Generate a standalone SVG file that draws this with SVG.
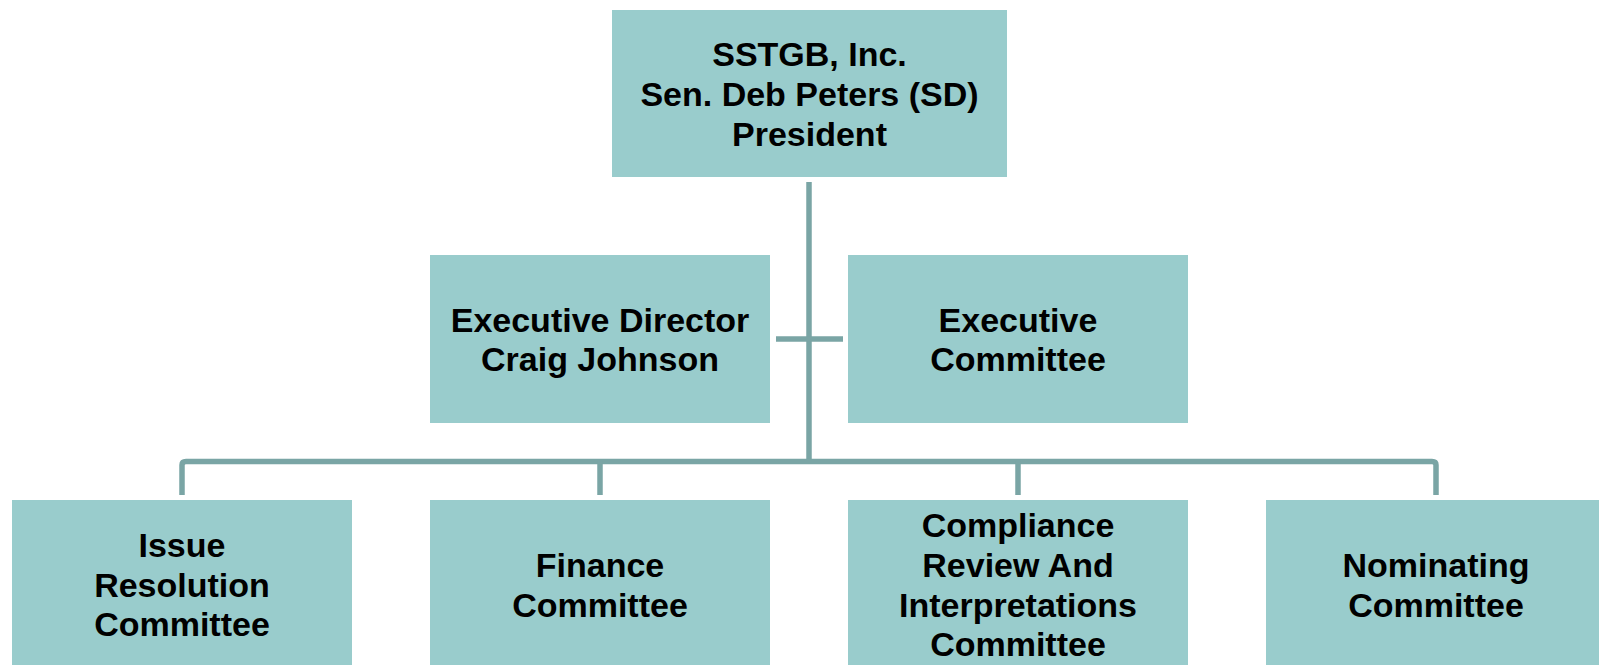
<svg xmlns="http://www.w3.org/2000/svg" width="1599" height="665" viewBox="0 0 1599 665">
<style>
.box{fill:#99CCCC;}
.t{font-family:"Liberation Sans",Arial,sans-serif;font-weight:bold;font-size:34px;fill:#000;text-anchor:middle;}
.c{fill:none;stroke:#7AA5A5;stroke-width:5.5;stroke-linejoin:round;}
</style>
<rect width="1599" height="665" fill="#fff"/>
<g id="connectors">
<path class="c" d="M809,182 V461"/>
<path class="c" d="M776,339 H843"/>
<path class="c" d="M182,495 V465 Q182,461.5 186,461.5 H1432 Q1436,461.5 1436,465 V495"/>
<path class="c" d="M600,461.5 V495"/>
<path class="c" d="M1018,461.5 V495"/>
</g>
<g id="president">
<rect class="box" x="612" y="10" width="395" height="167"/>
<text class="t" x="809.5" y="66">SSTGB, Inc.</text>
<text class="t" x="809.5" y="106">Sen. Deb Peters (SD)</text>
<text class="t" x="809.5" y="146">President</text>
</g>
<g id="exec-director">
<rect class="box" x="430" y="255" width="340" height="168"/>
<text class="t" x="600" y="332">Executive Director</text>
<text class="t" x="600" y="371">Craig Johnson</text>
</g>
<g id="exec-committee">
<rect class="box" x="848" y="255" width="340" height="168"/>
<text class="t" x="1018" y="332">Executive</text>
<text class="t" x="1018" y="371">Committee</text>
</g>
<g id="issue-resolution">
<rect class="box" x="12" y="500" width="340" height="175"/>
<text class="t" x="182" y="557">Issue</text>
<text class="t" x="182" y="597">Resolution</text>
<text class="t" x="182" y="636">Committee</text>
</g>
<g id="finance">
<rect class="box" x="430" y="500" width="340" height="175"/>
<text class="t" x="600" y="577">Finance</text>
<text class="t" x="600" y="617">Committee</text>
</g>
<g id="compliance">
<rect class="box" x="848" y="500" width="340" height="175"/>
<text class="t" x="1018" y="537">Compliance</text>
<text class="t" x="1018" y="577">Review And</text>
<text class="t" x="1018" y="617">Interpretations</text>
<text class="t" x="1018" y="656">Committee</text>
</g>
<g id="nominating">
<rect class="box" x="1266" y="500" width="340" height="175"/>
<text class="t" x="1436" y="577">Nominating</text>
<text class="t" x="1436" y="617">Committee</text>
</g>
</svg>
